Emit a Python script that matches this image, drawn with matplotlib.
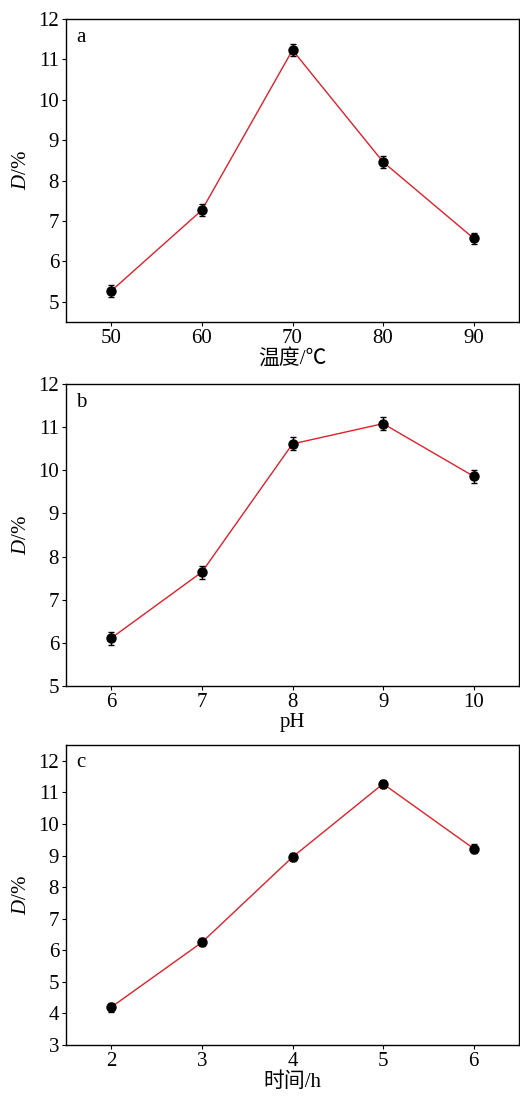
import matplotlib
matplotlib.use("Agg")
import matplotlib.pyplot as plt

plt.rcParams['font.family'] = ['Liberation Serif', 'Noto Sans CJK SC']
plt.rcParams['mathtext.fontset'] = 'custom'
plt.rcParams['mathtext.it'] = 'Liberation Serif:italic'
plt.rcParams['mathtext.rm'] = 'Liberation Serif'

# Temperature series
temp = [50, 60, 70, 80, 90]
d_temp = [5.27, 7.27, 11.23, 8.46, 6.57]
err_temp = [0.15, 0.15, 0.14, 0.14, 0.14]

# pH series
ph = [6, 7, 8, 9, 10]
d_ph = [6.11, 7.64, 10.61, 11.08, 9.86]
err_ph = [0.15, 0.15, 0.15, 0.15, 0.15]

# Time series
hours = [2, 3, 4, 5, 6]
d_time = [4.2, 6.25, 8.95, 11.27, 9.22]
err_time = [0.14, 0.13, 0.13, 0.13, 0.13]

panels = [
    dict(x=temp, y=d_temp, e=err_temp, xlim=(45, 95), ylim=(4.5, 12),
         yticks=range(5, 13), xlabel='温度/℃', tag='a',
         box=(0.127, 0.7065, 0.871, 0.2762)),
    dict(x=ph, y=d_ph, e=err_ph, xlim=(5.5, 10.5), ylim=(5, 12),
         yticks=range(5, 13), xlabel='pH', tag='b',
         box=(0.127, 0.3747, 0.871, 0.2753)),
    dict(x=hours, y=d_time, e=err_time, xlim=(1.5, 6.5), ylim=(3, 12.5),
         yticks=range(3, 13), xlabel='时间/h', tag='c',
         box=(0.127, 0.0474, 0.871, 0.2735)),
]

fig = plt.figure(figsize=(5.2, 10.97), dpi=100)
for p in panels:
    ax = fig.add_axes(p['box'])
    ax.plot(p['x'], p['y'], color='#e0202a', lw=1.0, zorder=2)
    ax.errorbar(p['x'], p['y'], yerr=p['e'], fmt='o', color='black',
                ms=6.5, capsize=2.5, elinewidth=1.0, capthick=1.0, zorder=3)
    ax.set_xlim(*p['xlim'])
    ax.set_ylim(*p['ylim'])
    ax.set_xticks(p['x'])
    ax.set_yticks(list(p['yticks']))
    ax.tick_params(direction='out', length=3, width=0.8, labelsize=15,
                   pad=2)
    for s in ax.spines.values():
        s.set_linewidth(1.0)
    ax.set_xlabel(p['xlabel'], fontsize=15, labelpad=1)
    ax.set_ylabel('$D$/%', fontsize=15, labelpad=5)
    ax.text(0.022, 0.94, p['tag'], transform=ax.transAxes, fontsize=15,
            va='center', ha='left')

fig.savefig('out.png', dpi=100)
